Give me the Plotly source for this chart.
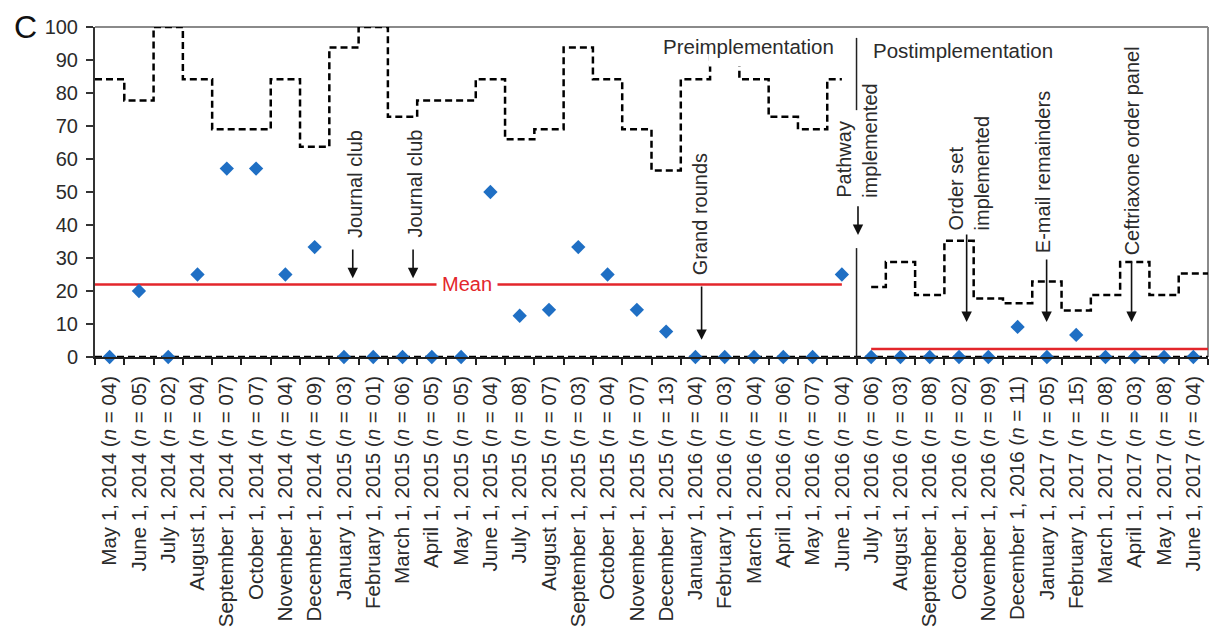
import plotly.graph_objects as go

# ---------------- data ----------------
months = ["May 1, 2014", "June 1, 2014", "July 1, 2014", "August 1, 2014", "September 1, 2014",
          "October 1, 2014", "November 1, 2014", "December 1, 2014", "January 1, 2015",
          "February 1, 2015", "March 1, 2015", "April 1, 2015", "May 1, 2015", "June 1, 2015",
          "July 1, 2015", "August 1, 2015", "September 1, 2015", "October 1, 2015",
          "November 1, 2015", "December 1, 2015", "January 1, 2016", "February 1, 2016",
          "March 1, 2016", "April 1, 2016", "May 1, 2016", "June 1, 2016",
          "July 1, 2016", "August 1, 2016", "September 1, 2016", "October 1, 2016",
          "November 1, 2016", "December 1, 2016", "January 1, 2017", "February 1, 2017",
          "March 1, 2017", "April 1, 2017", "May 1, 2017", "June 1, 2017"]

n_pre = [4, 5, 2, 4, 7, 7, 4, 9, 3, 1, 6, 5, 5, 4, 8, 7, 3, 4, 7, 13, 4, 3, 4, 6, 7, 4]
n_post = [6, 3, 8, 2, 9, 11, 5, 15, 8, 3, 8, 4]

pct_pre = [0, 20, 0, 25, 57.1, 57.1, 25, 33.3, 0, 0, 0, 0, 0, 50, 12.5, 14.3, 33.3, 25,
           14.3, 7.7, 0, 0, 0, 0, 0, 25]
pct_post = [0, 0, 0, 0, 0, 9.1, 0, 6.7, 0, 0, 0, 0]

ucl_pre = [84.2, 77.7, 100, 84.2, 69.0, 69.0, 84.2, 63.7, 93.8, 100, 72.8, 77.7, 77.7, 84.2,
           66.0, 69.0, 93.8, 84.2, 69.0, 56.5, 84.2, 93.8, 84.2, 72.8, 69.0, 84.2]
ucl_post = [21.2, 28.8, 18.8, 35.2, 17.7, 16.3, 22.9, 14.1, 18.8, 28.8, 18.8, 25.3]

mean_pre = 22.0
mean_post = 2.4

y_ticks = list(range(0, 101, 10))

# ---------------- derived ----------------
n_all = n_pre + n_post
labels = [f"{m} (<i>n</i> = {n:02d})" for m, n in zip(months, n_all)]
N_pre = len(n_pre)
N = len(n_all)
x_pre = list(range(N_pre))
x_post = list(range(N_pre, N))

FONT = "Arial, Liberation Sans, sans-serif"
TXT = "#2b2b2b"
BLUE = "#1f6fc4"
RED = "#e3262b"

fig = go.Figure()

dash = dict(color="black", width=2.5, dash="7px,4px")

# UCL pre (step, full-width cells, last half cell)
ux_pre = [i - 0.5 for i in x_pre] + [x_pre[-1]]
uy_pre = ucl_pre + [ucl_pre[-1]]
fig.add_trace(go.Scatter(x=ux_pre, y=uy_pre, mode="lines", line=dict(shape="hv", **dash),
                         cliponaxis=False, hoverinfo="skip"))
# UCL post
ux_post = [x_post[0]] + [i - 0.5 for i in x_post[1:]] + [x_post[-1] + 0.5]
uy_post = ucl_post + [ucl_post[-1]]
fig.add_trace(go.Scatter(x=ux_post, y=uy_post, mode="lines", line=dict(shape="hv", **dash),
                         cliponaxis=False, hoverinfo="skip"))
# LCL (0)
fig.add_trace(go.Scatter(x=[x_pre[0] - 0.5, x_post[-1] + 0.5], y=[0, 0], mode="lines",
                         line=dash, cliponaxis=False, hoverinfo="skip"))
# Means
fig.add_trace(go.Scatter(x=[x_pre[0] - 0.5, x_pre[-1]], y=[mean_pre, mean_pre], mode="lines",
                         line=dict(color=RED, width=2.5), cliponaxis=False, hoverinfo="skip"))
fig.add_trace(go.Scatter(x=[x_post[0], x_post[-1] + 0.5], y=[mean_post, mean_post], mode="lines",
                         line=dict(color=RED, width=2.5), cliponaxis=False, hoverinfo="skip"))
# Points
fig.add_trace(go.Scatter(x=x_pre + x_post, y=pct_pre + pct_post, mode="markers",
                         marker=dict(symbol="diamond", size=11, color=BLUE),
                         cliponaxis=False))

shapes = [
    # top & right frame
    dict(type="line", xref="paper", yref="paper", x0=0, x1=1, y0=1, y1=1, layer="below",
         line=dict(color="#8a8a8a", width=2)),
    dict(type="line", xref="paper", yref="paper", x0=1, x1=1, y0=0, y1=1, layer="below",
         line=dict(color="#8a8a8a", width=2)),
    # phase divider
    dict(type="line", xref="x", yref="y", x0=N_pre - 0.5, x1=N_pre - 0.5, y0=74.8, y1=96.7,
         line=dict(color="#222", width=1.5)),
    dict(type="line", xref="x", yref="y", x0=N_pre - 0.5, x1=N_pre - 0.5, y0=0, y1=33.0,
         line=dict(color="#222", width=1.5)),
    # white patch behind the "Preimplementation" label
    dict(type="rect", xref="x", yref="y", x0=20.45, x1=21.6, y0=88, y1=99,
         fillcolor="white", line=dict(width=0), layer="above"),
]

ann = []
def text_rot(x, y, t):
    ann.append(dict(x=x, y=y, xref="x", yref="y", text=t, textangle=-90, showarrow=False,
                    xanchor="center", yanchor="bottom", align="left",
                    font=dict(family=FONT, size=20, color=TXT)))

def arrow(x, y0, y1):
    ann.append(dict(x=x, y=y1, ax=x, ay=y0, xref="x", yref="y", axref="x", ayref="y",
                    text="", showarrow=True, arrowhead=2, arrowsize=1.3, arrowwidth=1.6,
                    arrowcolor="#111", standoff=0))

text_rot(8.38, 35.5, "Journal club");     arrow(8.30, 33.0, 23.9)
text_rot(10.41, 35.5, "Journal club");    arrow(10.36, 33.0, 23.9)
text_rot(20.16, 24.2, "Grand rounds");    arrow(20.21, 21.8, 5.2)
text_rot(25.53, 47.6, "Pathway<br>implemented"); arrow(25.55, 46.1, 37.0)
text_rot(29.34, 37.6, "Order set<br>implemented"); arrow(29.26, 37.6, 10.6)
text_rot(31.87, 30.9, "E-mail remainders");  arrow(31.99, 30.0, 10.6)
text_rot(34.90, 30.3, "Ceftriaxone order panel"); arrow(34.89, 29.4, 10.6)

ann.append(dict(x=12.2, y=mean_pre, xref="x", yref="y", text="Mean", showarrow=False,
                font=dict(family=FONT, size=20, color=RED), bgcolor="white", borderpad=5,
                xanchor="center", yanchor="middle"))
ann.append(dict(x=24.8, y=94, xref="x", yref="y", text="Preimplementation", showarrow=False,
                font=dict(family=FONT, size=20.5, color=TXT), xanchor="right", yanchor="middle"))
ann.append(dict(x=26.0, y=93, xref="x", yref="y", text="Postimplementation", showarrow=False,
                font=dict(family=FONT, size=20.5, color=TXT), xanchor="left", yanchor="middle"))
ann.append(dict(x=-0.075, y=1.0, xref="paper", yref="paper", text="C", showarrow=False,
                font=dict(family=FONT, size=32, color="#111"), xanchor="left", yanchor="middle"))

fig.update_layout(
    width=1229, height=635,
    margin=dict(l=95, r=21, t=27, b=278, autoexpand=False),
    paper_bgcolor="white", plot_bgcolor="white",
    showlegend=False,
    shapes=shapes, annotations=ann,
    font=dict(family=FONT, color=TXT),
)
fig.update_xaxes(
    range=[-0.5, N - 0.5], tickmode="array", tickvals=list(range(N)), ticktext=labels,
    tickangle=-90, ticks="", ticklabelstandoff=9, automargin=False,
    tickfont=dict(family=FONT, size=20.5, color=TXT),
    showgrid=False, zeroline=False, showline=True, linecolor="#222", linewidth=1.5,
    minor=dict(tickvals=[i - 0.5 for i in range(N + 1)], ticks="outside", ticklen=6,
               tickcolor="#222", tickwidth=1.5, showgrid=False),
)
fig.update_yaxes(
    range=[0, 100], tickmode="array", tickvals=y_ticks, automargin=False,
    ticks="outside", ticklen=7, tickcolor="#333", tickwidth=1.5, ticklabelstandoff=4,
    tickfont=dict(family=FONT, size=20, color=TXT),
    showgrid=False, zeroline=False, showline=True, linecolor="#333", linewidth=2,
)

fig.write_html("out.html", config={"displayModeBar": False},
               post_script="document.body.style.margin='0';document.body.style.padding='0';")
